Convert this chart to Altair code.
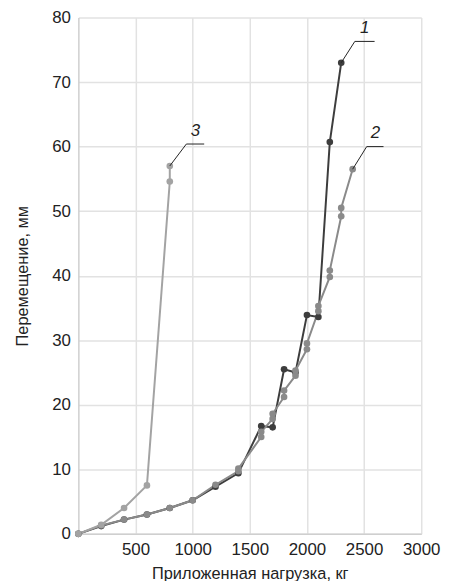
import altair as alt
import pandas as pd

# Series 1 (dark)
load1 = [0, 200, 400, 600, 800, 1000, 1200, 1400, 1600, 1700, 1800, 1900, 2000, 2100, 2200, 2300]
disp1 = [0, 1.2, 2.2, 3.0, 4.0, 5.2, 7.3, 9.4, 16.7, 16.5, 25.5, 25.0, 33.9, 33.6, 60.7, 73.0]

# Series 2 (medium gray, paired measurements)
load2 = [0, 200, 400, 600, 800, 1000, 1200, 1400, 1400, 1600, 1600, 1700, 1700, 1800, 1800,
         1900, 1900, 2000, 2000, 2100, 2100, 2200, 2200, 2300, 2300, 2400]
disp2 = [0, 1.3, 2.2, 3.0, 4.0, 5.2, 7.6, 9.7, 10.1, 15.0, 15.8, 17.8, 18.6, 21.2, 22.2,
         24.5, 25.3, 28.6, 29.5, 34.5, 35.3, 39.8, 40.8, 49.2, 50.5, 56.5]

# Series 3 (light gray)
load3 = [0, 200, 400, 600, 800, 800]
disp3 = [0, 1.4, 4.0, 7.5, 54.6, 57.0]

series_names = ["1", "2", "3"]
series_colors = ["#3d3d3d", "#8a8a8a", "#a3a3a3"]

x_ticks = [500, 1000, 1500, 2000, 2500, 3000]
y_ticks = [0, 10, 20, 30, 40, 50, 60, 70, 80]

# Curve labels: text position, underline span, leader end (data units)
lab_text = ["1", "2", "3"]
lab_x = [2505, 2600, 1025]
lab_y = [77.0, 60.7, 61.1]
ul_x1 = [2419, 2523, 945]
ul_x2 = [2592, 2670, 1101]
ul_y = [76.3, 60.0, 60.4]
ld_x = [2300, 2400, 800]
ld_y = [73.0, 56.5, 57.0]

rows = []
for name, xs, ys in zip(series_names, [load1, load2, load3], [disp1, disp2, disp3]):
    for i, (x, y) in enumerate(zip(xs, ys)):
        rows.append({"series": name, "load": x, "disp": y, "idx": i})
df = pd.DataFrame(rows)

ann = pd.DataFrame({
    "text": lab_text, "tx": lab_x, "ty": lab_y,
    "ux1": ul_x1, "ux2": ul_x2, "uy": ul_y,
    "lx": ld_x, "ly": ld_y,
})

xscale = alt.Scale(domain=[0, 3000], nice=False)
yscale = alt.Scale(domain=[0, 80], nice=False)
color = alt.Color("series:N", scale=alt.Scale(domain=series_names, range=series_colors), legend=None)

base = alt.Chart(df).encode(
    x=alt.X("load:Q", scale=xscale,
            axis=alt.Axis(title="Приложенная нагрузка, кг", values=x_ticks, format="d",
                          labelOverlap=False, labelFlush=False, labelPadding=8, titlePadding=8)),
    y=alt.Y("disp:Q", scale=yscale,
            axis=alt.Axis(title="Перемещение, мм", values=y_ticks, format="d",
                          labelOverlap=False, labelFlush=False, labelPadding=8, titlePadding=21)),
    color=color,
    order="idx:Q",
)

lines = base.mark_line(strokeWidth=2)
points = base.mark_point(filled=True, size=45, opacity=1)

underline = alt.Chart(ann).mark_rule(color="#222", strokeWidth=1).encode(
    x="ux1:Q", x2="ux2:Q", y="uy:Q")
leader = alt.Chart(ann).mark_rule(color="#222", strokeWidth=1).encode(
    x="ux1:Q", x2="lx:Q", y="uy:Q", y2="ly:Q")
labels = alt.Chart(ann).mark_text(fontStyle="italic", fontSize=17, color="#222",
                                  baseline="bottom", font="Liberation Sans").encode(
    x="tx:Q", y="ty:Q", text="text:N")

chart = alt.layer(lines, points, leader, underline, labels).properties(
    width=346, height=521,
    autosize=alt.AutoSizeParams(type="none"),
    padding={"left": 71, "top": 7, "right": 25, "bottom": 45},
).configure_view(stroke=None).configure_axis(
    grid=True, gridColor="#e2e2e2", gridWidth=1.5,
    domainColor="#cfcfcf", domainWidth=1.5,
    ticks=False,
    labelFont="Liberation Sans", labelFontSize=17, labelColor="#222",
    titleFont="Liberation Sans", titleFontSize=16.5, titleColor="#222", titleFontWeight="normal",
)

chart.save("out.html", embed_options={"renderer": "svg", "actions": False})
